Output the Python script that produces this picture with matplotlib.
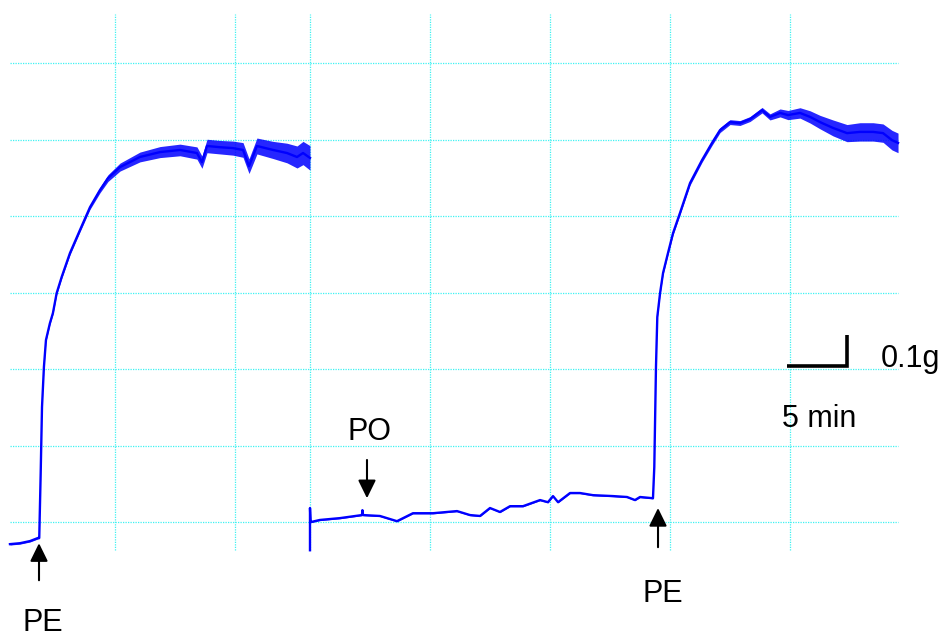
import numpy as np
import matplotlib.pyplot as plt

plt.rcParams['font.family'] = ['Liberation Sans', 'DejaVu Sans']

# first trace: PE added to a naive ring (time in min, tension in g)
t1 = [0.0, 0.83, 1.67, 2.33, 2.44, 2.56, 2.67, 2.83, 3.0, 3.33, 3.58, 3.89, 4.31,
      5.0, 5.83, 6.67, 7.5, 8.17, 9.17, 10.83, 12.5, 14.17, 15.58, 16.0, 16.42,
      17.5, 18.58, 19.42, 19.92, 20.58, 21.92, 23.08, 23.92, 24.42, 25.0]
g1 = [-0.072, -0.069, -0.062, -0.052, -0.052, 0.160, 0.376, 0.507, 0.595, 0.650,
      0.683, 0.748, 0.801, 0.879, 0.954, 1.029, 1.085, 1.124, 1.160, 1.193, 1.209,
      1.216, 1.206, 1.176, 1.229, 1.225, 1.222, 1.216, 1.163, 1.229, 1.216, 1.206,
      1.193, 1.206, 1.190]
noise1 = [0.003, 0.003, 0.003, 0.003, 0.002, 0.002, 0.002, 0.003, 0.004, 0.004,
          0.004, 0.005, 0.005, 0.006, 0.006, 0.007, 0.009, 0.011, 0.013, 0.016, 0.018,
          0.019, 0.020, 0.020, 0.022, 0.022, 0.023, 0.024, 0.024, 0.026, 0.028, 0.032,
          0.036, 0.038, 0.040]

# second trace: PO pre-incubation, then PE
t2 = [25.0, 25.0, 25.05, 25.83, 27.5, 29.33, 29.37, 29.42, 30.83, 32.25, 33.58,
      35.25, 37.25, 38.33, 39.17, 40.0, 40.83, 41.67, 42.75, 44.17, 44.83, 45.25,
      45.67, 46.67, 47.5, 48.58, 50.25, 51.42, 52.08, 52.5, 53.58, 53.69, 53.83,
      53.94, 54.17, 54.42, 54.83, 55.25, 55.83, 56.67, 57.67, 58.5, 59.17, 60.0,
      60.83, 61.67, 62.67, 63.33, 64.17, 64.83, 65.83, 66.67, 67.5, 68.58, 69.75,
      70.83, 71.92, 72.75, 73.5, 74.0]
g2 = [-0.092, 0.046, 0.0, 0.007, 0.013, 0.023, 0.039, 0.023, 0.020, 0.003, 0.029,
      0.029, 0.036, 0.023, 0.020, 0.046, 0.033, 0.052, 0.052, 0.072, 0.065, 0.085,
      0.065, 0.095, 0.095, 0.088, 0.085, 0.082, 0.072, 0.082, 0.078, 0.180, 0.507,
      0.670, 0.748, 0.814, 0.879, 0.944, 1.010, 1.108, 1.183, 1.239, 1.281, 1.307,
      1.304, 1.317, 1.346, 1.324, 1.337, 1.330, 1.337, 1.324, 1.307, 1.288, 1.271,
      1.275, 1.275, 1.271, 1.248, 1.239]
noise2 = [0.0, 0.0, 0.002, 0.002, 0.002, 0.002, 0.002, 0.002, 0.002, 0.002, 0.002,
          0.002, 0.002, 0.002, 0.002, 0.002, 0.002, 0.002, 0.002, 0.002, 0.002, 0.002,
          0.002, 0.002, 0.002, 0.002, 0.002, 0.002, 0.002, 0.002, 0.002, 0.002, 0.003,
          0.004, 0.004, 0.005, 0.005, 0.006, 0.006, 0.007, 0.007, 0.008, 0.008, 0.008,
          0.008, 0.008, 0.009, 0.010, 0.013, 0.015, 0.017, 0.020, 0.022, 0.026, 0.028,
          0.030, 0.030, 0.030, 0.032, 0.032]

# grid positions
hgrid = [0.0, 0.25, 0.5, 0.75, 1.0, 1.25, 1.5]
vgrid = [8.75, 18.75, 25.0, 35.0, 45.0, 55.0, 65.0]

fig = plt.figure(figsize=(9.47, 6.39), dpi=100)
ax = fig.add_axes([0, 0, 1, 1])
ax.set_xlim(-0.83, 78.08)
ax.set_ylim(-0.382, 1.706)
ax.axis('off')

gridcol = '#3ff2f2'
ax.hlines(hgrid, 0, 74, colors=gridcol, linestyles=(0, (1, 1)), lw=0.9, zorder=1)
ax.vlines(vgrid, -0.092, 1.66, colors=gridcol, linestyles=(0, (1, 1)), lw=0.9, zorder=1)

blue = '#0000ff'
for t, g, n in [(t1, g1, noise1), (t2, g2, noise2)]:
    t = np.array(t)
    g = np.array(g)
    n = np.array(n)
    ax.fill_between(t, g - n, g + n, color=blue, lw=0, alpha=0.85, zorder=2)
    ax.plot(t, g, color=blue, lw=1.7, zorder=3)

# scale bar: 5 min x 0.1 g
ax.plot([64.75, 69.75, 69.75], [0.51, 0.51, 0.61], color='black', lw=2.6,
        solid_joinstyle='miter', solid_capstyle='butt', zorder=4)
ax.text(72.58, 0.507, '0.1g', fontsize=22, ha='left', va='baseline')
ax.text(64.33, 0.310, '5 min', fontsize=22, ha='left', va='baseline')

# drug markers
arrow = dict(arrowstyle='-|>,head_length=0.55,head_width=0.27', color='black',
             lw=1.5, shrinkA=0, shrinkB=0, mutation_scale=20)
ax.annotate('', xy=(2.42, -0.069), xytext=(2.42, -0.190), arrowprops=arrow)
ax.annotate('', xy=(29.75, 0.078), xytext=(29.75, 0.203), arrowprops=arrow)
ax.annotate('', xy=(54.0, 0.046), xytext=(54.0, -0.082), arrowprops=arrow)

ax.text(2.75, -0.355, 'PE', fontsize=22, ha='center', va='baseline')
ax.text(30.0, 0.268, 'PO', fontsize=22, ha='center', va='baseline')
ax.text(54.38, -0.261, 'PE', fontsize=22, ha='center', va='baseline')

plt.savefig('out.png', dpi=100)
